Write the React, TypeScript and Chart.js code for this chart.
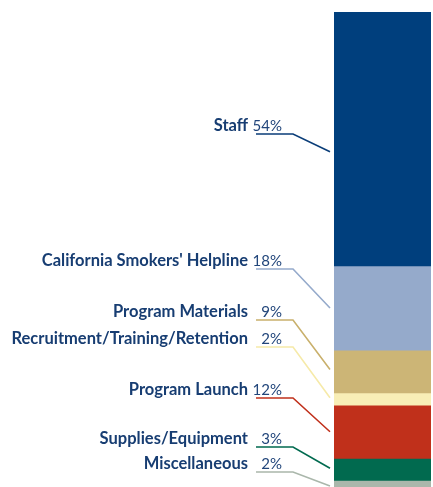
import React, { useEffect, useRef } from "react";
import { Chart, registerables } from "chart.js";

Chart.register(...registerables);

const categories = [
  "Staff",
  "California Smokers' Helpline",
  "Program Materials",
  "Recruitment/Training/Retention",
  "Program Launch",
  "Supplies/Equipment",
  "Miscellaneous",
];
const shareLabels = ["54%", "18%", "9%", "2%", "12%", "3%", "2%"];
// segment sizes
const barValues = [54, 17.9, 9.1, 2.6, 11.3, 4.7, 2];
const segmentColors = ["#003f7d", "#95aacb", "#ccb576", "#f8eeb6", "#c0301b", "#016a4f", "#aab7ab"];
const leaderColors = ["#0a3d78", "#95aacb", "#c9b06c", "#f6eaa9", "#c0301b", "#016a4f", "#aab7ab"];
// layout: y of each label's underline, and where on its segment each leader ends
const underlineY = [134, 269, 320, 347, 398, 447, 472];
const anchorFrac = [0.55, 0.5, 0.45, 0.4, 0.5, 0.45, 0.6];

const labelPlugin = {
  id: "leaderLabels",
  afterDatasetsDraw(chart: any) {
    const { ctx, chartArea } = chart;
    ctx.save();
    categories.forEach((name, i) => {
      const meta = chart.getDatasetMeta(i);
      const el = meta.data[0];
      if (!el) return;
      const top = Math.min(el.y, el.base);
      const bot = Math.max(el.y, el.base);
      const anchorY = Math.min(top + (bot - top) * anchorFrac[i], chartArea.bottom - 1);
      const uy = underlineY[i];
      const x0 = 256;
      const x1 = 293;
      const x2 = chartArea.left - 4;
      ctx.strokeStyle = leaderColors[i];
      ctx.lineWidth = 1.6;
      ctx.beginPath();
      ctx.moveTo(x0, uy);
      ctx.lineTo(x1, uy);
      ctx.lineTo(x2, anchorY);
      ctx.stroke();

      const baseY = uy - 3.5;
      ctx.fillStyle = "#173d72";
      ctx.textBaseline = "alphabetic";
      ctx.font = "bold 16.5px Lato";
      ctx.textAlign = "right";
      ctx.fillText(name, 248, baseY);
      ctx.font = "15px Lato";
      ctx.fillStyle = "#22467b";
      ctx.fillText(shareLabels[i], 282, baseY);
    });
    ctx.restore();
  },
};

export default function App() {
  const ref = useRef<HTMLCanvasElement | null>(null);
  useEffect(() => {
    if (!ref.current) return;
    const chart = new Chart(ref.current, {
      type: "bar",
      data: {
        labels: ["Budget"],
        datasets: categories.map((c, i) => ({
          label: c,
          data: [barValues[i]],
          backgroundColor: segmentColors[i],
          borderWidth: 0,
          barPercentage: 1,
          categoryPercentage: 1,
          stack: "s",
        })),
      },
      options: {
        animation: false,
        responsive: false,
        maintainAspectRatio: false,
        layout: { padding: { left: 334, right: 2, top: 12, bottom: 0 } },
        scales: {
          x: { display: false, stacked: true },
          y: { display: false, stacked: true, reverse: true, min: 0, max: 101 },
        },
        plugins: { legend: { display: false }, tooltip: { enabled: false } },
      },
      plugins: [labelPlugin],
    });
    return () => chart.destroy();
  }, []);
  return (
    <div style={{ position: "fixed", left: 0, top: 0, width: 433, height: 487, background: "#fff" }}>
      <canvas ref={ref} width={433} height={487} style={{ display: "block" }} />
    </div>
  );
}
